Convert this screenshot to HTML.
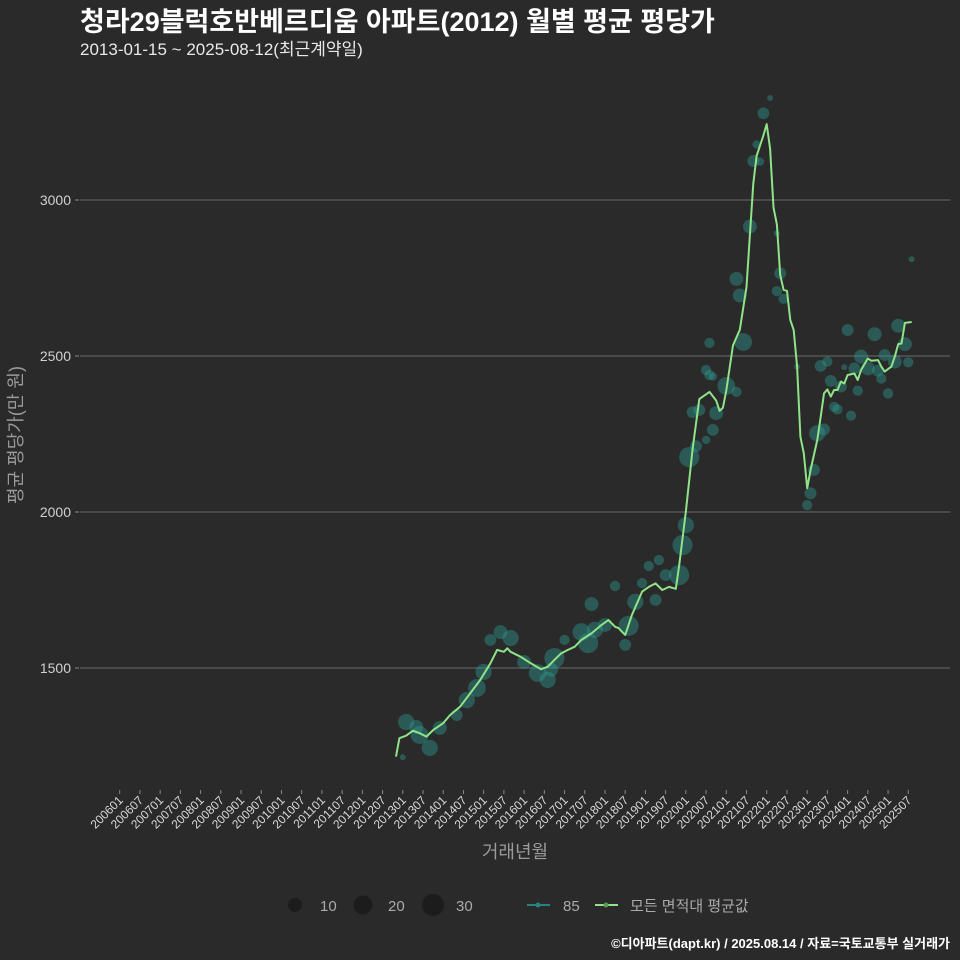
<!DOCTYPE html>
<html><head><meta charset="utf-8">
<style>
html,body{margin:0;padding:0;background:#2a2a2a;}
svg{display:block;font-family:"Liberation Sans","Noto Sans CJK KR",sans-serif;}
</style></head>
<body>
<svg id="chart" width="960" height="960" viewBox="0 0 960 960">
<rect x="0" y="0" width="960" height="960" fill="#2a2a2a"/>
<text x="80" y="31" fill="#ffffff" font-size="27" font-weight="bold">청라29블럭호반베르디움 아파트(2012) 월별 평균 평당가</text>
<text x="80" y="55" fill="#e8e8e8" font-size="17">2013-01-15 ~ 2025-08-12(최근계약일)</text>
<g id="grid"></g>
<g id="bubbles"></g>
<g id="lines"></g>
<g id="xaxis"></g>
<text x="515" y="858" fill="#9a9a9a" font-size="18" text-anchor="middle">거래년월</text>
<text transform="translate(22,435) rotate(-90)" fill="#9a9a9a" font-size="18" text-anchor="middle">평균 평당가(만 원)</text>
<g>
  <circle cx="295" cy="905" r="7" fill="#1c1c1c"/>
  <text x="320" y="911" fill="#aaaaaa" font-size="15">10</text>
  <circle cx="363" cy="905" r="9.5" fill="#1c1c1c"/>
  <text x="388" y="911" fill="#aaaaaa" font-size="15">20</text>
  <circle cx="433" cy="905" r="11" fill="#1c1c1c"/>
  <text x="456" y="911" fill="#aaaaaa" font-size="15">30</text>
  <line x1="527" y1="905" x2="550" y2="905" stroke="#26837f" stroke-width="2"/>
  <circle cx="538" cy="905" r="2.5" fill="#26837f"/>
  <text x="563" y="911" fill="#aaaaaa" font-size="15">85</text>
  <line x1="595" y1="905" x2="618" y2="905" stroke="#8fe388" stroke-width="2"/>
  <circle cx="606" cy="905" r="2.5" fill="#5a9a55"/>
  <text x="630" y="911" fill="#aaaaaa" font-size="15">모든 면적대 평균값</text>
</g>
<text x="950" y="948" fill="#ffffff" font-size="13" font-weight="bold" text-anchor="end">©디아파트(dapt.kr) / 2025.08.14 / 자료=국토교통부 실거래가</text>
</svg>
<script>
const yTicks = [1500, 2000, 2500, 3000];
const lineDates = ["2012-11","2012-12","2013-02","2013-04","2013-06","2013-08","2013-10","2014-01","2014-03","2014-06","2014-09","2014-12","2015-03","2015-05","2015-07","2015-08","2015-09","2015-12","2016-03","2016-06","2016-08","2016-10","2016-12","2017-02","2017-04","2017-06","2017-09","2017-12","2018-02","2018-04","2018-05","2018-07","2018-09","2018-12","2019-02","2019-04","2019-06","2019-08","2019-10","2019-11","2020-01","2020-03","2020-05","2020-08","2020-10","2020-11","2020-12","2021-01","2021-03","2021-05","2021-07","2021-08","2021-09","2021-10","2021-12","2022-01","2022-02","2022-03","2022-04","2022-05","2022-06","2022-07","2022-08","2022-09","2022-10","2022-11","2022-12","2023-01","2023-02","2023-04","2023-05","2023-06","2023-07","2023-08","2023-09","2023-10","2023-11","2023-12","2024-01","2024-03","2024-04","2024-05","2024-07","2024-08","2024-10","2024-11","2024-12","2025-02","2025-03","2025-04","2025-05","2025-06","2025-08"];
const lineValues = [1216,1275,1283,1299,1291,1280,1301,1323,1349,1376,1419,1462,1515,1558,1552,1563,1552,1536,1515,1496,1504,1526,1547,1558,1568,1590,1611,1638,1654,1632,1628,1606,1670,1745,1760,1771,1750,1760,1754,1827,2003,2202,2362,2385,2357,2324,2334,2390,2534,2584,2721,2888,3053,3141,3207,3243,3164,2976,2921,2760,2712,2709,2615,2583,2466,2241,2188,2076,2135,2231,2305,2380,2393,2370,2391,2391,2418,2412,2439,2444,2423,2455,2492,2485,2487,2466,2450,2466,2498,2538,2540,2606,2609];
const bubbleDates = ["2013-01","2013-02","2013-05","2013-09","2013-06","2013-12","2014-05","2014-08","2014-11","2015-01","2015-03","2015-06","2015-09","2016-01","2016-05","2016-08","2016-09","2016-10","2017-01","2017-06","2017-08","2017-10","2017-09","2018-04","2018-01","2018-07","2018-08","2018-10","2019-02","2018-12","2019-04","2019-07","2019-05","2019-11","2019-12","2020-01","2020-02","2020-04","2020-05","2020-03","2020-07","2020-08","2020-07","2020-09","2020-10","2021-01","2021-04","2021-06","2020-08","2020-09","2021-04","2021-05","2021-08","2021-10","2021-09","2021-11","2021-12","2022-02","2022-04","2022-05","2022-04","2022-06","2022-10","2023-01","2023-02","2023-03","2023-04","2023-06","2023-09","2023-10","2023-08","2023-11","2023-05","2023-07","2023-12","2024-01","2024-02","2024-04","2024-03","2024-05","2024-07","2024-09","2024-11","2024-12","2025-01","2025-03","2025-04","2025-06","2025-07","2025-08","2024-10"];
const bubbleValues = [1214,1327,1311,1244,1285,1308,1349,1397,1436,1487,1590,1615,1596,1519,1484,1462,1494,1532,1590,1615,1580,1622,1705,1763,1638,1574,1635,1712,1827,1772,1718,1798,1846,1798,1894,1958,2176,2211,2327,2320,2455,2439,2231,2263,2317,2404,2385,2545,2542,2434,2747,2694,2915,3178,3125,3123,3278,3327,2893,2765,2708,2683,2466,2022,2060,2135,2252,2265,2337,2329,2420,2402,2468,2482,2464,2583,2309,2389,2460,2498,2460,2570,2428,2503,2380,2482,2597,2538,2480,2810,2453];
const bubbleCounts = [2,15,11,15,18,11,8,15,18,15,8,11,15,11,18,15,11,23,6,18,23,15,11,6,11,8,23,15,6,6,8,8,6,23,23,15,23,8,8,8,6,6,4,8,11,18,6,18,6,4,11,11,11,4,8,4,8,2,2,8,6,6,2,6,8,8,15,8,6,6,8,8,8,6,2,8,6,6,8,11,11,11,6,8,6,11,11,11,6,2,8];
const xTickLabels = [];
for (let y = 2006; y <= 2025; y++) { xTickLabels.push(y + "01"); xTickLabels.push(y + "07"); }

const X0 = 119.7, PXM = 3.37;
function monthIndex(s){ const y=+s.slice(0,4), m=+s.slice(s.length-2); return (y-2006)*12 + (m-1); }
function xScale(s){ return X0 + monthIndex(s.length===6 ? s.slice(0,4)+"-"+s.slice(4) : s) * PXM; }
function yScale(v){ return 668 - (v-1500)*0.312; }
function rScale(n){ return 2.1*Math.sqrt(n); }
const NS = "http://www.w3.org/2000/svg";
function mk(tag, attrs, parent){ const e=document.createElementNS(NS,tag); for(const k in attrs) e.setAttribute(k,attrs[k]); parent.appendChild(e); return e; }

const grid = document.getElementById('grid');
yTicks.forEach(t => {
  const y = yScale(t);
  const gl = mk('line',{x1:80,x2:950,y1:y,y2:y,stroke:'#6a6a6a','stroke-width':1},grid);
  
  
  const tk = mk('line',{x1:75,x2:79,y1:y,y2:y,stroke:'#888','stroke-width':1},grid);
  
  
  const tx = mk('text',{x:71,y:y+5,fill:'#d0d0d0','font-size':14,'text-anchor':'end'},grid);
  tx.textContent = t;
  
  
});

const xa = document.getElementById('xaxis');
xTickLabels.forEach(l => {
  const x = xScale(l);
  const tk = mk('line',{x1:x,x2:x,y1:790,y2:794,stroke:'#888','stroke-width':1},xa);
  
  
  const tx = mk('text',{x:0,y:0,fill:'#d8d8d8','font-size':12,'text-anchor':'end',transform:`translate(${x+4},${801}) rotate(-45)`},xa);
  tx.textContent = l;
  
  
});

const bg = document.getElementById('bubbles');
bubbleDates.forEach((d,i) => {
  const c = mk('circle',{cx:xScale(d),cy:yScale(bubbleValues[i]),r:rScale(bubbleCounts[i]),fill:'#2e9a92','fill-opacity':0.42},bg);
  
  
});

const lg = document.getElementById('lines');
const pts = lineDates.map((d,i) => xScale(d).toFixed(1)+','+yScale(lineValues[i]).toFixed(1)).join(' ');
const pl = mk('polyline',{points:pts,fill:'none',stroke:'#8fe388','stroke-width':2,'stroke-linejoin':'round'},lg);


</script>
</body></html>
